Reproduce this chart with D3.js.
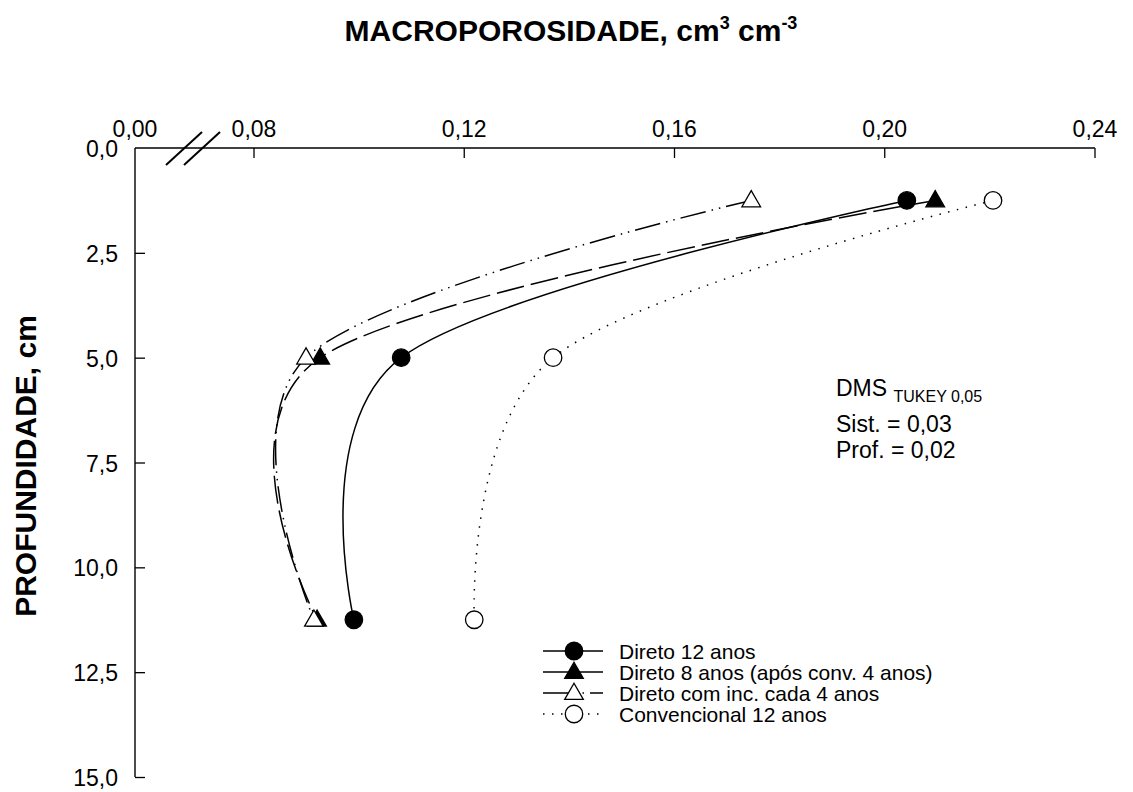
<!DOCTYPE html>
<html>
<head>
<meta charset="utf-8">
<script src="https://cdn.jsdelivr.net/npm/d3@7"></script>
<style>
  body { margin: 0; background: #fff; }
  svg { display: block; }
  text { font-family: "Liberation Sans", Arial, sans-serif; fill: #000; }
</style>
</head>
<body>
<svg id="chart"></svg>
<script>
// depth of each sampling layer (cm)
var depths = [1.25, 5, 11.25];

var seriesNames = ["Direto 12 anos", "Direto 8 anos (após conv. 4 anos)", "Direto com inc. cada 4 anos", "Convencional 12 anos"];

// macroporosity, cm3 cm-3
var direto12 = [0.2042, 0.1080, 0.0990];
var direto8 = [0.2096, 0.0926, 0.0920];
var diretoInc = [0.1746, 0.0899, 0.0914];
var convencional = [0.2206, 0.1369, 0.1219];

var xTicks = [0.08, 0.12, 0.16, 0.20, 0.24];
var yTicks = [0, 2.5, 5, 7.5, 10, 12.5, 15];

var width = 1133, height = 792;
var svg = d3.select("#chart").attr("width", width).attr("height", height);

var axisLeft = 135, axisTop = 148, axisBottom = 777;
var xScale = d3.scaleLinear().domain([0.08, 0.24]).range([254, 1095]);
var yScale = d3.scaleLinear().domain([0, 15]).range([axisTop, axisBottom]);
var fmt = function (d, n) { return d.toFixed(n).replace(".", ","); };

var styles = [
  { data: direto12, dash: null, shape: "circle", fill: "#000" },
  { data: direto8, dash: "28,7", shape: "triangle", fill: "#000" },
  { data: diretoInc, dash: "26,6,1.5,6,1.5,6", shape: "triangle", fill: "#fff" },
  { data: convencional, dash: "1.5,7.5", shape: "circle", fill: "#fff" }
];

// title
var title = svg.append("text")
  .attr("x", 571).attr("y", 41)
  .attr("text-anchor", "middle")
  .style("font-size", "30px").style("font-weight", "bold");
title.append("tspan").text("MACROPOROSIDADE, cm");
title.append("tspan").attr("dy", -12).style("font-size", "18px").text("3");
title.append("tspan").attr("dy", 12).text(" cm");
title.append("tspan").attr("dy", -12).style("font-size", "18px").text("-3");

// y title
svg.append("text")
  .attr("transform", "translate(36,466) rotate(-90)")
  .attr("text-anchor", "middle")
  .style("font-size", "30px").style("font-weight", "bold")
  .text("PROFUNDIDADE, cm");

// top axis (broken between 0,00 and 0,08)
svg.append("line")
  .attr("x1", axisLeft).attr("x2", xScale(0.24))
  .attr("y1", axisTop).attr("y2", axisTop)
  .attr("stroke", "#000").attr("stroke-width", 1.4);

svg.selectAll(".xtick").data(xTicks).join("line")
  .attr("x1", d => xScale(d)).attr("x2", d => xScale(d))
  .attr("y1", axisTop).attr("y2", axisTop + 10)
  .attr("stroke", "#000").attr("stroke-width", 1.3);

svg.selectAll(".xlab").data([0].concat(xTicks)).join("text")
  .attr("x", d => d === 0 ? axisLeft : xScale(d))
  .attr("y", axisTop - 11)
  .attr("text-anchor", "middle")
  .style("font-size", "23px")
  .text(d => fmt(d, 2));

// axis break marks
[0, 18].forEach(function (off) {
  svg.append("line")
    .attr("x1", 166 + off).attr("y1", 165)
    .attr("x2", 202 + off).attr("y2", 132)
    .attr("stroke", "#000").attr("stroke-width", 2);
});

// left axis
var yAxis = d3.axisRight(yScale).tickValues(yTicks).tickSize(10).tickFormat("");
var yg = svg.append("g").attr("transform", "translate(" + axisLeft + ",0)").call(yAxis);
yg.select(".domain").attr("d", "M0," + axisTop + "V" + axisBottom).attr("stroke-width", 1.4);
yg.selectAll(".tick line").attr("stroke-width", 1.3);
yg.selectAll(".tick").filter(d => d === 0).select("line").remove();

svg.selectAll(".ylab").data(yTicks).join("text")
  .attr("x", axisLeft - 17)
  .attr("y", d => yScale(d) + 9)
  .attr("text-anchor", "end")
  .style("font-size", "23px")
  .text(d => fmt(d, 1));

// curves (uniform catmull-rom, like the original spline)
var line = d3.line()
  .x(d => xScale(d.v))
  .y(d => yScale(d.depth))
  .curve(d3.curveCardinal.tension(0));

function symbolPath(shape) {
  return shape === "circle"
    ? d3.symbol().type(d3.symbolCircle).size(240)()
    : d3.symbol().type(d3.symbolTriangle).size(150)();
}

styles.forEach(function (s) {
  var pts = depths.map((d, i) => ({ depth: d, v: s.data[i] }));
  svg.append("path")
    .datum(pts)
    .attr("d", line)
    .attr("fill", "none")
    .attr("stroke", "#000")
    .attr("stroke-width", 1.5)
    .attr("stroke-dasharray", s.dash);
});

styles.forEach(function (s) {
  var pts = depths.map((d, i) => ({ depth: d, v: s.data[i] }));
  svg.selectAll(null).data(pts).join("path")
    .attr("transform", d => "translate(" + xScale(d.v) + "," + (yScale(d.depth) + (s.shape === "triangle" ? 1 : 0)) + ")")
    .attr("d", symbolPath(s.shape))
    .attr("fill", s.fill)
    .attr("stroke", "#000")
    .attr("stroke-width", 1.3);
});

// DMS note
var dms = svg.append("text").attr("x", 836).attr("y", 396).style("font-size", "23px");
dms.append("tspan").text("DMS ");
dms.append("tspan").attr("dy", 6).style("font-size", "16px").text("TUKEY 0,05");
svg.append("text").attr("x", 836).attr("y", 432).style("font-size", "23px").text("Sist. = 0,03");
svg.append("text").attr("x", 836).attr("y", 458).style("font-size", "23px").text("Prof. = 0,02");

// legend
var legend = svg.append("g").attr("transform", "translate(543,651)");
styles.forEach(function (s, i) {
  var g = legend.append("g").attr("transform", "translate(0," + i * 21 + ")");
  g.append("line")
    .attr("x1", 0).attr("x2", 60).attr("y1", 0).attr("y2", 0)
    .attr("stroke", "#000").attr("stroke-width", 1.5)
    .attr("stroke-dasharray", s.dash);
  g.append("path")
    .attr("transform", "translate(31," + (s.shape === "triangle" ? 1 : 0) + ")")
    .attr("d", symbolPath(s.shape))
    .attr("fill", s.fill).attr("stroke", "#000").attr("stroke-width", 1.3);
  g.append("text")
    .attr("x", 76).attr("y", 7.5)
    .style("font-size", "21px")
    .text(seriesNames[i]);
});
</script>
</body>
</html>
